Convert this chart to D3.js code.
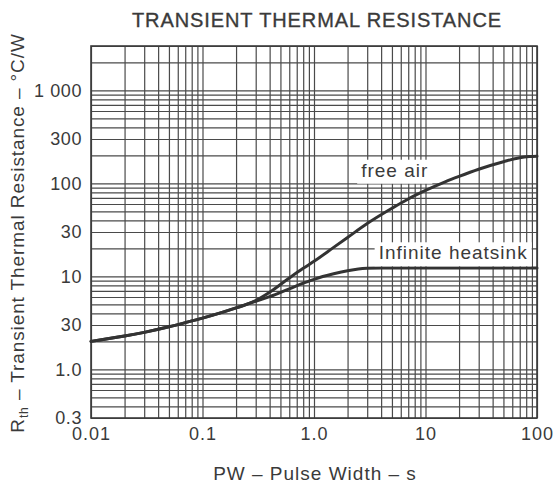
<!DOCTYPE html>
<html>
<head>
<meta charset="utf-8">
<script src="https://cdn.jsdelivr.net/npm/d3@7"></script>
<style>
  html, body { margin: 0; padding: 0; background: #fff; }
  svg text { font-family: "Liberation Sans", Arial, Helvetica, sans-serif; fill: #3a3a3a; }
</style>
</head>
<body>
<svg id="chart" width="559" height="493"></svg>
<script>
// ---- data ----
const xTickValues = [0.01, 0.1, 1, 10, 100];
const xTickLabels = ["0.01", "0.1", "1.0", "10", "100"];
const yTickValues = [1000, 300, 100, 30, 10, 3, 1, 0.3];
const yTickLabels = ["1 000", "300", "100", "30", "10", "30", "1.0", "0.3"];

const freeAirX = [0.01, 0.02, 0.03, 0.05, 0.07, 0.1, 0.15, 0.2, 0.3, 0.4, 0.6, 0.8, 1.0, 1.5, 2, 3, 5, 7, 10, 15, 20, 30, 50, 70, 85, 100];
const freeAirY = [2.0, 2.28, 2.5, 2.87, 3.18, 3.56, 4.1, 4.58, 5.5, 6.75, 9.6, 12.2, 14.5, 20.5, 26.2, 37, 54, 68, 84, 104, 119, 142, 171, 189, 194.5, 196];

const heatsinkX = [0.01, 0.02, 0.03, 0.05, 0.07, 0.1, 0.15, 0.2, 0.3, 0.4, 0.6, 0.8, 1.0, 1.5, 2, 2.5, 3, 4, 10, 30, 100];
const heatsinkY = [2.0, 2.28, 2.5, 2.87, 3.18, 3.56, 4.1, 4.58, 5.4, 6.05, 7.35, 8.45, 9.3, 10.65, 11.5, 12.0, 12.2, 12.3, 12.3, 12.3, 12.3];

const seriesNames = ["free air", "Infinite heatsink"];
const labelAnchorX = [5.3, 17.7];
const labelAnchorY = [139, 18];

// ---- layout ----
const W = 559, H = 493;
const margin = { top: 46, right: 22, bottom: 75, left: 91 };
const iw = W - margin.left - margin.right;
const ih = H - margin.top - margin.bottom;

const svg = d3.select("#chart");
const g = svg.append("g").attr("transform", `translate(${margin.left},${margin.top})`);

const x = d3.scaleLog().domain([0.01, 100]).range([0, iw]);
const y = d3.scaleLog().domain([0.3, 3000]).range([ih, 0]);

const gridColor = "#4a4a4a";

// grid values: 1..9 x each decade
function logGrid(lo, hi) {
  const vals = [];
  for (let e = -3; e <= 4; e++) {
    for (let m = 1; m <= 9; m++) {
      const v = +(m * Math.pow(10, e)).toPrecision(6);
      if (v >= lo * 0.9999 && v <= hi * 1.0001) vals.push(v);
    }
  }
  return vals;
}

g.append("g")
  .attr("class", "vgrid")
  .attr("transform", `translate(0,${ih})`)
  .call(d3.axisBottom(x).tickValues(logGrid(0.01, 100)).tickSize(-ih).tickFormat(""))
  .call(s => s.select(".domain").remove())
  .call(s => s.selectAll("line").attr("stroke", gridColor).attr("stroke-width", 1.2));

g.append("g")
  .attr("class", "hgrid")
  .call(d3.axisLeft(y).tickValues(logGrid(0.3, 3000)).tickSize(-iw).tickFormat(""))
  .call(s => s.select(".domain").remove())
  .call(s => s.selectAll("line").attr("stroke", gridColor).attr("stroke-width", 1.2));

// frame
g.append("rect")
  .attr("x", x(0.01)).attr("y", y(3000))
  .attr("width", x(100) - x(0.01)).attr("height", y(0.3) - y(3000))
  .attr("fill", "none").attr("stroke", "#3a3a3a").attr("stroke-width", 1.6);

// tick labels
const xAxis = g.append("g")
  .attr("transform", `translate(0,${ih})`)
  .call(d3.axisBottom(x).tickValues(xTickValues).tickSize(0).tickPadding(9)
    .tickFormat((d, i) => xTickLabels[i]));
xAxis.select(".domain").remove();
xAxis.selectAll("text")
  .style("font-size", "18px").style("letter-spacing", "1px").attr("fill", "#3a3a3a")
  .attr("font-family", null);

const yAxis = g.append("g")
  .call(d3.axisLeft(y).tickValues(yTickValues).tickSize(0).tickPadding(9)
    .tickFormat((d, i) => yTickLabels[i]));
yAxis.select(".domain").remove();
yAxis.selectAll("text")
  .style("font-size", "18px").style("letter-spacing", "0.6px").attr("fill", "#3a3a3a")
  .attr("font-family", null);

// curves
const line = d3.line()
  .x(d => x(d[0])).y(d => y(d[1]))
  .curve(d3.curveMonotoneX);

const freeAir = freeAirX.map((v, i) => [v, freeAirY[i]]);
const heatsink = heatsinkX.map((v, i) => [v, heatsinkY[i]]);

[heatsink, freeAir].forEach(data => {
  g.append("path")
    .datum(data)
    .attr("d", line)
    .attr("fill", "none")
    .attr("stroke", "#333")
    .attr("stroke-width", 3)
    .attr("stroke-linecap", "round");
});

// series labels with white boxes
seriesNames.forEach((name, i) => {
  const lg = g.append("g");
  const t = lg.append("text")
    .attr("x", x(labelAnchorX[i]))
    .attr("y", y(labelAnchorY[i]))
    .attr("text-anchor", "middle")
    .attr("dy", "0.35em")
    .style("font-size", "19px")
    .style("letter-spacing", "1px")
    .text(name);
  const bb = t.node().getBBox();
  lg.insert("rect", "text")
    .attr("x", bb.x - 4).attr("y", bb.y)
    .attr("width", bb.width + 8).attr("height", bb.height + 3)
    .attr("fill", "#fff");
});

// title
svg.append("text")
  .attr("x", 317).attr("y", 27)
  .attr("text-anchor", "middle")
  .style("font-size", "20px")
  .style("letter-spacing", "0.9px")
  .style("stroke", "#3a3a3a").style("stroke-width", "0.35px")
  .text("TRANSIENT THERMAL RESISTANCE");

// x title
svg.append("text")
  .attr("x", 315).attr("y", 480)
  .attr("text-anchor", "middle")
  .style("font-size", "19px")
  .style("letter-spacing", "1px")
  .text("PW – Pulse Width – s");

// y title
const yt = svg.append("text")
  .attr("transform", `translate(24,233) rotate(-90)`)
  .attr("text-anchor", "middle")
  .style("font-size", "19px")
  .style("letter-spacing", "0.9px");
yt.append("tspan").text("R");
yt.append("tspan").attr("dy", 4).style("font-size", "12px").text("th");
yt.append("tspan").attr("dy", -4).text(" – Transient Thermal Resistance – °C/W");
</script>
</body>
</html>
